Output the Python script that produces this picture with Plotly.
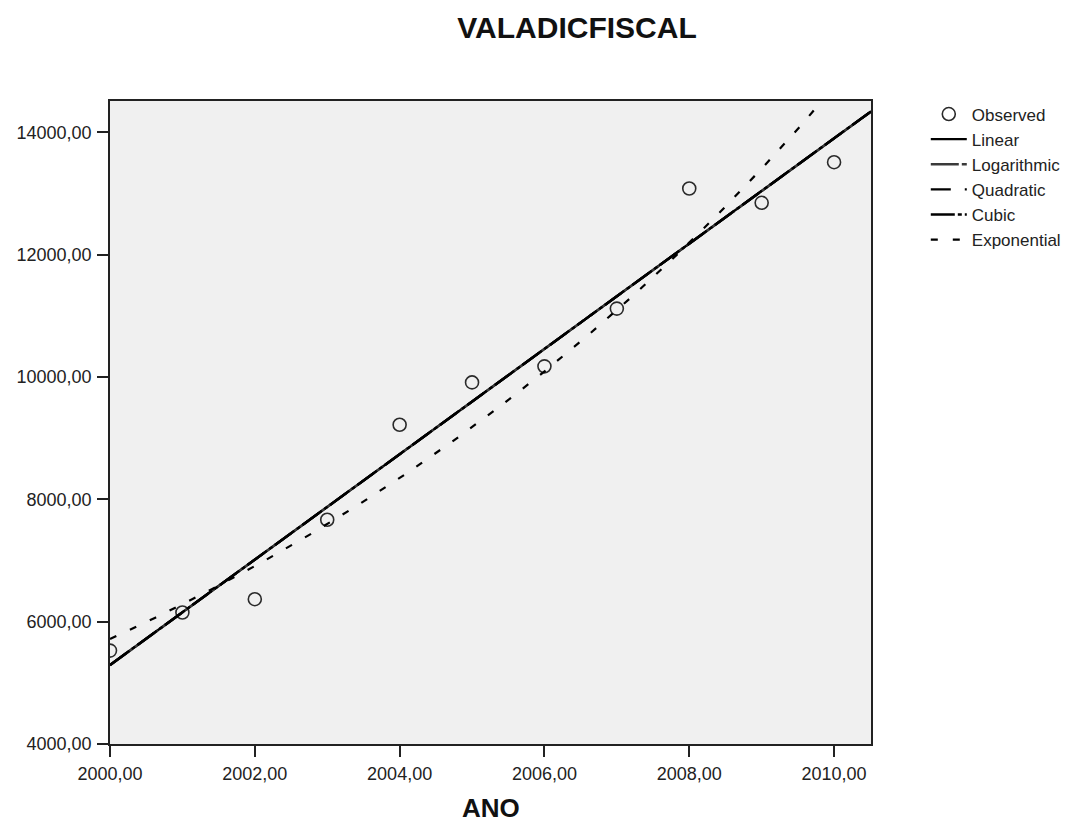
import numpy as np
import plotly.graph_objects as go

# ---- data ----
years = [2000, 2001, 2002, 2003, 2004, 2005, 2006, 2007, 2008, 2009, 2010]
observed = [5527, 6150, 6368, 7667, 9221, 9913, 10176, 11120, 13084, 12850, 13514]

x_range = [2000, 2010.51]
y_range = [4000, 14515]
x_ticks = [2000, 2002, 2004, 2006, 2008, 2010]
y_ticks = [4000, 6000, 8000, 10000, 12000, 14000]

FONT = "Liberation Sans, Arial, sans-serif"

# ---- curve estimation (fits derived from observed data) ----
xa = np.array(years, dtype=float)
ya = np.array(observed, dtype=float)
xs = np.linspace(x_range[0], x_range[1], 300)

b1, b0 = np.polyfit(xa, ya, 1)
linear = b0 + b1 * xs
l1, l0 = np.polyfit(np.log(xa), ya, 1)
logarithmic = l0 + l1 * np.log(xs)
# higher-order terms are collinear with the year values and are dropped,
# so quadratic and cubic coincide with the linear fit
quadratic = linear.copy()
cubic = linear.copy()
e1, e0 = np.polyfit(xa - 2000, np.log(ya), 1)
exponential = np.exp(e0 + e1 * (xs - 2000))

fig = go.Figure()
fig.add_trace(go.Scatter(x=years, y=observed, mode="markers", name="Observed",
                         legendgroup="a",
                         marker=dict(symbol="circle-open", size=13, color="#2a2a2a",
                                     line=dict(width=1.6, color="#2a2a2a"))))
fig.add_trace(go.Scatter(x=xs, y=linear, mode="lines", name="Linear", legendgroup="b",
                         line=dict(color="#000000", width=2.4)))
fig.add_trace(go.Scatter(x=xs, y=logarithmic, mode="lines", name="Logarithmic", legendgroup="c",
                         line=dict(color="#3a3a3a", width=2.4, dash="28px,3px")))
fig.add_trace(go.Scatter(x=xs, y=quadratic, mode="lines", name="Quadratic", legendgroup="d",
                         line=dict(color="#000000", width=2.4, dash="20px,14px")))
fig.add_trace(go.Scatter(x=xs, y=cubic, mode="lines", name="Cubic", legendgroup="e",
                         line=dict(color="#000000", width=2.4, dash="24px,3px,4px,3px")))
fig.add_trace(go.Scatter(x=xs, y=exponential, mode="lines", name="Exponential", legendgroup="f",
                         line=dict(color="#000000", width=2.2, dash="7px,15px")))

axis_common = dict(showgrid=False, zeroline=False, showline=True, mirror=True,
                   linecolor="#222222", linewidth=1.6, ticks="outside", ticklen=11,
                   tickwidth=1.6, tickcolor="#222222", tickformat=".2f", automargin=False,
                   tickfont=dict(family=FONT, size=18, color="#222222"))

fig.update_layout(
    width=1083, height=829,
    margin=dict(l=110, r=212, t=101, b=85, autoexpand=False),
    paper_bgcolor="white", plot_bgcolor="#f0f0f0",
    separators=",.",
    title=dict(text="<b>VALADICFISCAL</b>", x=577 / 1083, xref="container", xanchor="center",
               y=1 - 27 / 829, yref="container", yanchor="middle",
               font=dict(family=FONT, size=30, color="#111111")),
    xaxis=dict(range=x_range, tickvals=x_ticks, ticklabelstandoff=2, **axis_common),
    yaxis=dict(range=y_range, tickvals=y_ticks, ticklabelstandoff=2, **axis_common),
    legend=dict(x=1.072, xanchor="left", y=1.007, yanchor="top",
                font=dict(family=FONT, size=17, color="#222222"),
                tracegroupgap=0, bgcolor="rgba(0,0,0,0)", itemwidth=36),
    showlegend=True,
    annotations=[dict(text="<b>ANO</b>", xref="paper", yref="paper", x=0.5, y=-64 / 642.5,
                      xanchor="center", yanchor="middle", showarrow=False,
                      font=dict(family=FONT, size=26, color="#111111"))],
)

fig.write_html("out.html")
